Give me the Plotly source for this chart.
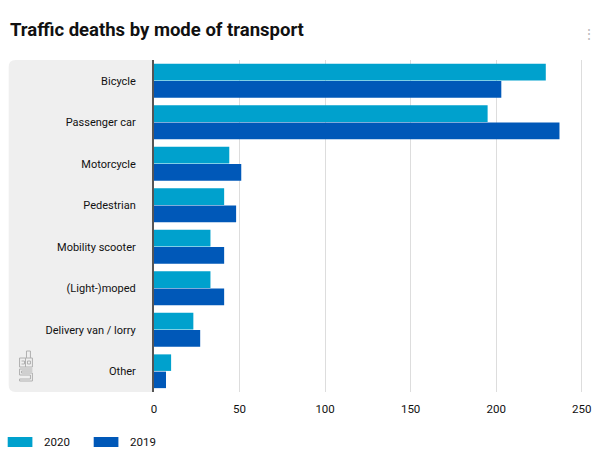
import plotly.graph_objects as go

categories = ["Bicycle", "Passenger car", "Motorcycle", "Pedestrian",
              "Mobility scooter", "(Light-)moped", "Delivery van / lorry", "Other"]
deaths_2020 = [229, 195, 44, 41, 33, 33, 23, 10]
deaths_2019 = [203, 237, 51, 48, 41, 41, 27, 7]
x_ticks = [0, 50, 100, 150, 200, 250]

C2020 = "#00a1cd"
C2019 = "#0058b8"
FONT = "Roboto, 'Noto Sans', sans-serif"

W, H = 600, 459
ML, MR, MT, MB = 154, 9, 60, 67
PW, PH = W - ML - MR, H - MT - MB

def px(x):
    return (x - ML) / PW

def py(y):
    return 1 - (y - MT) / PH

def poly(points, closed=False):
    s = "M " + " L ".join(f"{px(a)} {py(b)}" for a, b in points)
    return s + (" Z" if closed else "")

fig = go.Figure()
fig.add_trace(go.Bar(y=categories, x=deaths_2020, name="2020", orientation="h",
                     marker=dict(color=C2020, line=dict(width=0))))
fig.add_trace(go.Bar(y=categories, x=deaths_2019, name="2019", orientation="h",
                     marker=dict(color=C2019, line=dict(width=0))))

shapes = []
# grey panel behind the category labels, rounded on the left
r = 7
x0, x1, y0, y1 = 7, ML, MT, MT + PH
path = (f"M {px(x1)} {py(y0)} L {px(x0 + r)} {py(y0)} "
        f"Q {px(x0)} {py(y0)} {px(x0)} {py(y0 + r)} "
        f"L {px(x0)} {py(y1 - r)} Q {px(x0)} {py(y1)} {px(x0 + r)} {py(y1)} "
        f"L {px(x1)} {py(y1)} Z")
shapes.append(dict(type="path", xref="paper", yref="paper", path=path,
                   fillcolor="#efefef", line=dict(width=0), layer="below"))
# simple CBS-like logo outline
logo_parts = [
    [(25, 358), (25, 351), (29, 351), (29, 358)],
    [(18, 358), (31, 358), (31, 367), (18, 367), (18, 358)],
    [(24, 358), (24, 367)],
    [(20, 361), (23, 361), (23, 364), (20, 364)],
    [(26, 361), (29, 361), (29, 364), (26, 364), (26, 361)],
    [(31, 369), (18, 369), (18, 375), (29, 375), (29, 379), (18, 379), (18, 381), (31, 381),
     (31, 373), (20, 373), (20, 371), (31, 371)],
]
for pts in logo_parts:
    shapes.append(dict(type="path", xref="paper", yref="paper", path=poly(pts),
                       fillcolor="rgba(0,0,0,0)", line=dict(color="#b0b0b0", width=1)))
# legend swatches
for (sx, col) in [(6, C2020), (93, C2019)]:
    shapes.append(dict(type="rect", xref="paper", yref="paper",
                       x0=px(sx), x1=px(sx + 25), y0=py(437), y1=py(447),
                       fillcolor=col, line=dict(width=0)))

annotations = [
    dict(text="<b>Traffic deaths by mode of transport</b>", xref="paper", yref="paper",
         x=px(6), y=py(30), xanchor="left", yanchor="middle", showarrow=False,
         font=dict(family=FONT, size=18.5, color="#111111")),
    dict(text="⋮", xref="paper", yref="paper", x=px(603), y=py(34),
         xanchor="right", yanchor="middle", showarrow=False,
         font=dict(family=FONT, size=14, color="#bbbbbb")),
    dict(text="2020", xref="paper", yref="paper", x=px(41), y=py(442),
         xanchor="left", yanchor="middle", showarrow=False,
         font=dict(family=FONT, size=11.5, color="#111111")),
    dict(text="2019", xref="paper", yref="paper", x=px(128), y=py(442),
         xanchor="left", yanchor="middle", showarrow=False,
         font=dict(family=FONT, size=11.5, color="#111111")),
]

fig.update_layout(
    width=W, height=H,
    margin=dict(l=ML, r=MR, t=MT, b=MB, pad=0),
    paper_bgcolor="white", plot_bgcolor="rgba(0,0,0,0)",
    barmode="group", bargap=0.17, bargroupgap=0.04,
    showlegend=False,
    font=dict(family=FONT, size=11, color="#111111"),
    shapes=shapes, annotations=annotations,
)
fig.update_xaxes(range=[0, 252.5], tickvals=x_ticks, showgrid=True,
                 gridcolor="#dddddd", gridwidth=1, zeroline=False,
                 showline=False, ticks="", ticklabelstandoff=8,
                 tickfont=dict(size=11.5, color="#111111"),
                 fixedrange=True)
fig.update_yaxes(autorange="reversed", showgrid=False, zeroline=False,
                 showline=True, linecolor="#555555", linewidth=2,
                 ticks="", ticklabelstandoff=14,
                 tickfont=dict(size=11, color="#111111"), fixedrange=True)

fig.write_html("out.html", config={"displayModeBar": False})
